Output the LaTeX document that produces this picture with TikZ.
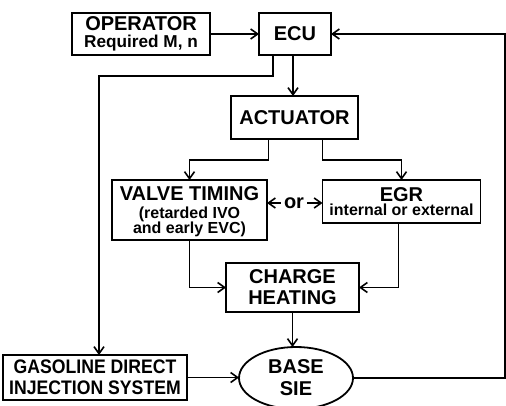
\documentclass[tikz,border=0pt]{standalone}
\usepackage{fontspec}
\setmainfont{Liberation Sans}
\newfontfamily\narrowfont[FakeStretch=0.9]{Liberation Sans}
\usepackage{tikz}
\usetikzlibrary{arrows.meta,positioning,shapes.geometric}
\newcommand{\linesep}[1]{\fontsize{10}{#1}\selectfont\lineskiplimit=-10pt\bfseries}
\newcommand{\bigtxt}{\fontsize{10}{10}\selectfont\bfseries}
\newcommand{\midtxt}{\fontsize{8.6}{9}\selectfont\bfseries}
\newcommand{\smalltxt}{\fontsize{8}{8}\selectfont\bfseries}
\newcommand{\gditxt}{\narrowfont\fontsize{9.8}{10}\selectfont\bfseries}
\tikzset{
  blockbox/.style={draw, line width=0.9pt, inner sep=0pt, outer sep=0pt, align=center},
  ovalbox/.style={draw, ellipse, line width=0.9pt, inner sep=0pt, outer sep=0pt, align=center},
  flow/.style={->, line width=0.8pt}
}

\begin{document}
\begin{tikzpicture}[x=0.5pt, y=-0.5pt, >={Straight Barb[length=3.5pt,width=5pt]}]
    \useasboundingbox (0,0) rectangle (506,405);

    % Blocks
    \node [blockbox, font=\linesep{8.5}, minimum width=69pt, minimum height=21pt] (operator) at (141,34)
        {\bigtxt OPERATOR\\\midtxt Required M, n};
    \node [blockbox, font=\linesep{10}, minimum width=36pt, minimum height=21pt] (ecu) at (295,34) {\bigtxt ECU};
    \node [blockbox, font=\linesep{10}, minimum width=63.5pt, minimum height=21.5pt] (actuator) at (294.5,117.5) {\bigtxt ACTUATOR};
    \node [blockbox, font=\linesep{7.6}, text depth=0pt, minimum width=77.5pt, minimum height=30pt] (valve) at (189.5,210)
        {\bigtxt VALVE TIMING\\[1.4pt]\smalltxt (retarded IVO\\\smalltxt and early EVC)};
    \node [blockbox, font=\linesep{7}, minimum width=79pt, minimum height=21.5pt] (egr) at (401.5,201.5)
        {\bigtxt EGR\\\smalltxt internal or external};
    \node [blockbox, font=\linesep{10.5}, minimum width=66.5pt, minimum height=24.5pt] (charge) at (292.5,287.5)
        {\bigtxt CHARGE\\\bigtxt HEATING};
    \node [blockbox, font=\linesep{10.5}, minimum width=92pt, minimum height=22.5pt] (gdi) at (95,377.5)
        {\gditxt GASOLINE DIRECT\\\gditxt INJECTION SYSTEM};
    \node [ovalbox, font=\linesep{11}, minimum width=57pt, minimum height=31pt] (base) at (296,378)
        {\bigtxt BASE\\\bigtxt SIE};
    \node [inner sep=1.5pt, font=\bigtxt] (or) at (294,203) {or};

    % Helper points
    \coordinate (gdibend) at (99,76);
    \coordinate (fork) at (0,160);
    \coordinate (feedback) at (505,34);

    % Connectors
    \draw [flow] (operator.east) -- (ecu.west);
    \draw [flow] ([xshift=-1pt]ecu.south) -- ([xshift=-1pt]ecu.south |- actuator.north);
    \draw [flow] ([xshift=-11pt]ecu.south) |- (gdibend) -- (gdibend |- gdi.north);
    \draw [flow] ([xshift=-13pt]actuator.south) |- (fork -| valve.north) -- (valve.north);
    \draw [flow] ([xshift=14pt]actuator.south) |- (fork -| egr.north) -- (egr.north);
    \draw [flow] (or.west) -- (or.west -| valve.east);
    \draw [flow] (or.east) -- (or.east -| egr.west);
    \draw [flow] (valve.south) |- (charge.west);
    \draw [flow] ([xshift=-1.5pt]egr.south) |- (charge.east);
    \draw [flow] (charge.south) -- (charge.south |- base.north);
    \draw [flow] (gdi.east) -- (gdi.east -| base.west);
    \draw [flow] (base.east) -| (feedback) -- (ecu.east);
\end{tikzpicture}
\end{document}
